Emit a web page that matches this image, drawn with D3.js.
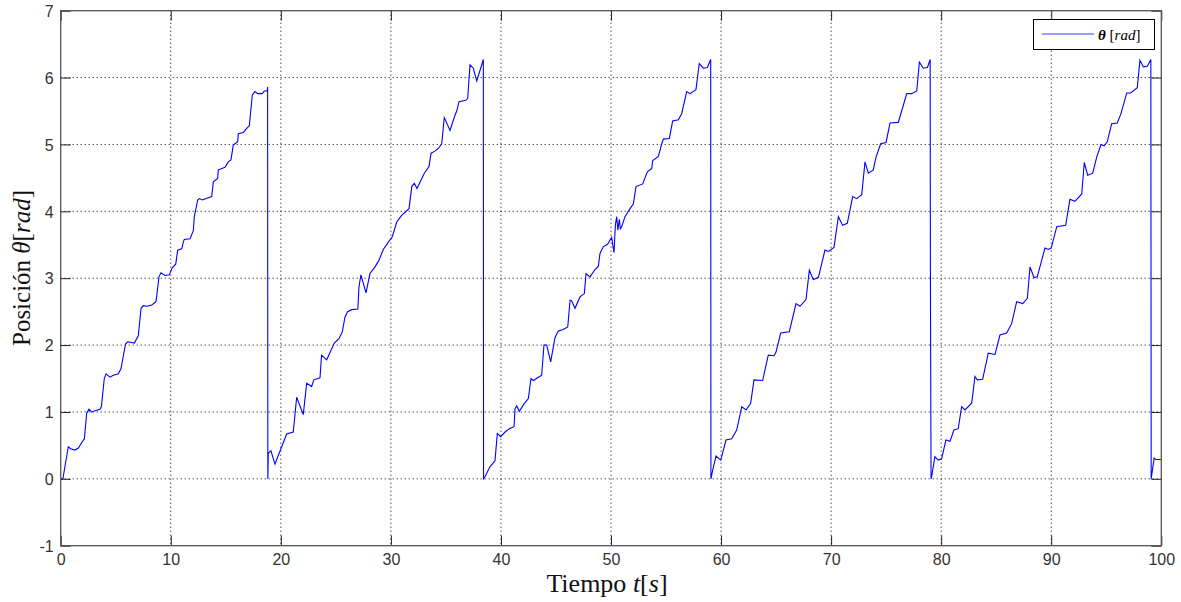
<!DOCTYPE html>
<html>
<head>
<meta charset="utf-8">
<script src="https://cdn.jsdelivr.net/npm/d3@7"></script>
<style>
  body { margin: 0; background: #fff; }
  svg { display: block; }
  .tick text { font-family: "Liberation Sans", Arial, sans-serif; font-size: 16px; fill: #333; }
</style>
</head>
<body>
<div id="chart"></div>
<script>
// time samples [s]
const tiempo = [
  0, 0.2, 0.69, 0.9, 1.3, 1.6, 1.9, 2.15, 2.36, 2.57, 2.8, 3.57, 3.7, 3.96, 4.12, 4.48, 4.78, 5.24, 5.48, 5.69,
  5.9, 6.1, 6.69, 7.05, 7.3, 7.5, 7.85, 8.27, 8.66, 8.93, 9.11, 9.48, 9.87, 10.14, 10.45, 10.63, 11.0, 11.14, 11.23, 11.75,
  12.05, 12.14, 12.45, 12.6, 12.87, 13.72, 13.87, 14.26, 14.32, 14.93, 15.23, 15.47, 15.68, 16.08, 16.14, 16.6, 16.9, 17.14, 17.41, 17.65,
  17.9, 18.32, 18.5, 18.76, 18.8, 18.82,
  18.86, 19.1, 19.47, 19.72, 20.08, 20.53, 21.13, 21.44, 22.04, 22.35, 22.8, 23.0, 23.56, 23.7, 24.17, 24.86, 25.3, 25.59, 25.83, 26.07,
  26.45, 27.0, 27.1, 27.28, 27.4, 27.74, 28.1, 28.56, 28.92, 29.31, 29.77, 30.13, 30.53, 30.98, 31.65, 31.9, 32.13, 32.37, 33.04, 33.46,
  33.65, 34.0, 34.31, 34.62, 34.85, 34.97, 35.37, 35.83, 35.98, 36.19, 36.8, 36.98, 37.19, 37.49, 37.8, 38.1, 38.4, 38.42,
  38.55, 39.0, 39.46, 39.67, 39.98, 40.37, 40.76, 41.19, 41.28, 41.43, 41.67, 42.1, 42.49, 42.73, 42.94, 43.7, 43.91, 44.16, 44.52, 44.91,
  45.21, 45.61, 46.07, 46.28, 46.4, 46.73, 47.18, 47.58, 47.73, 48.09, 48.55, 48.85, 49.0, 49.3, 49.7, 50.06, 50.27, 50.4, 50.52, 50.62,
  50.76, 50.85, 50.97, 51.27, 51.73, 52.03, 52.27, 52.88, 53.3, 53.7, 53.79, 54.3, 54.61, 54.76, 55.3, 55.6, 56.12, 56.42, 56.88, 57.18,
  57.72, 58.02, 58.39, 58.75, 59.06, 59.08,
  59.24, 59.54, 59.97, 60.45, 60.97, 61.42, 61.88, 62.27, 62.69, 62.99, 63.78, 64.29, 64.81, 65.0, 65.42, 66.2, 66.81, 67.17, 67.72, 68.02,
  68.38, 68.84, 69.44, 69.75, 70.26, 70.66, 71.05, 71.47, 71.96, 72.32, 72.78, 73.08, 73.38, 73.83, 74.08, 74.5, 74.99, 75.35, 76.1, 76.41,
  76.87, 77.32, 77.78, 78.02, 78.38, 78.75, 79.0, 79.02, 79.08,
  79.13, 79.43, 79.73, 80.04, 80.43, 80.8, 81.16, 81.55, 81.86, 82.16, 82.77, 83.07, 83.28, 83.77, 84.28, 84.89, 85.34, 85.95, 86.4, 86.86,
  87.41, 87.83, 88.07, 88.43, 88.73, 89.43, 89.73, 90.0, 90.5, 91.31, 91.7, 92.15, 92.77, 93.0, 93.31, 93.77, 94.13, 94.52, 94.8, 95.09,
  95.49, 96.0, 96.31, 96.86, 97.22, 97.82, 98.06, 98.37, 98.73, 99.05, 99.08,
  99.35, 99.5, 100
];

// angular position theta [rad]
const theta = [
  0, 0, 0.48, 0.45, 0.43, 0.46, 0.54, 0.6, 0.98, 1.04, 1.0, 1.04, 1.08, 1.5, 1.57, 1.52, 1.55, 1.57, 1.65, 1.84,
  2.02, 2.05, 2.03, 2.14, 2.55, 2.59, 2.58, 2.6, 2.65, 3.02, 3.08, 3.04, 3.05, 3.16, 3.21, 3.42, 3.44, 3.54, 3.58, 3.59,
  3.71, 3.92, 4.17, 4.19, 4.17, 4.22, 4.44, 4.49, 4.62, 4.66, 4.74, 4.77, 4.99, 5.04, 5.16, 5.18, 5.24, 5.28, 5.74, 5.79,
  5.76, 5.76, 5.8, 5.8, 5.86, 0,
  0.38, 0.42, 0.22, 0.33, 0.48, 0.67, 0.7, 1.22, 0.96, 1.43, 1.38, 1.48, 1.51, 1.85, 1.78, 2.03, 2.1, 2.2, 2.42, 2.5,
  2.53, 2.54, 2.87, 3.05, 2.98, 2.78, 3.07, 3.17, 3.27, 3.43, 3.54, 3.62, 3.84, 3.94, 4.04, 4.37, 4.42, 4.34, 4.57, 4.67,
  4.87, 4.9, 4.94, 5.01, 5.4, 5.36, 5.21, 5.44, 5.5, 5.64, 5.66, 5.69, 6.19, 6.14, 5.95, 6.11, 6.27, 0,
  0.03, 0.18, 0.27, 0.68, 0.63, 0.7, 0.75, 0.78, 1.05, 1.09, 1.01, 1.12, 1.2, 1.5, 1.47, 1.55, 2.0, 2.0, 1.75, 2.11,
  2.21, 2.23, 2.27, 2.67, 2.67, 2.55, 2.72, 2.77, 3.07, 3.02, 3.13, 3.18, 3.37, 3.47, 3.51, 3.61, 3.38, 3.8, 3.92, 3.72,
  3.88, 3.74, 3.77, 3.92, 4.04, 4.11, 4.37, 4.41, 4.59, 4.64, 4.76, 4.82, 5.01, 5.08, 5.09, 5.35, 5.37, 5.46, 5.79, 5.76,
  5.82, 6.21, 6.14, 6.15, 6.27, 0,
  0.13, 0.34, 0.28, 0.58, 0.6, 0.73, 1.08, 1.03, 1.13, 1.48, 1.47, 1.85, 1.84, 1.9, 2.18, 2.2, 2.62, 2.58, 2.68, 3.12,
  2.98, 3.01, 3.42, 3.4, 3.46, 3.92, 3.79, 3.82, 4.22, 4.19, 4.25, 4.74, 4.57, 4.62, 4.81, 5.01, 5.03, 5.32, 5.33, 5.5,
  5.76, 5.76, 5.8, 6.23, 6.14, 6.15, 6.27, 3.15, 0,
  0.03, 0.33, 0.28, 0.3, 0.58, 0.56, 0.73, 0.75, 1.08, 1.03, 1.13, 1.53, 1.48, 1.49, 1.88, 1.86, 2.15, 2.18, 2.32, 2.65,
  2.62, 2.7, 3.17, 3.01, 3.02, 3.45, 3.43, 3.45, 3.77, 3.79, 4.18, 4.15, 4.26, 4.73, 4.54, 4.57, 4.81, 5.0, 4.98, 5.04,
  5.31, 5.32, 5.45, 5.77, 5.77, 5.85, 6.26, 6.16, 6.17, 6.27, 0,
  0.31, 0.29, 0.29
];

const xTicks = [0, 10, 20, 30, 40, 50, 60, 70, 80, 90, 100];
const yTicks = [-1, 0, 1, 2, 3, 4, 5, 6, 7];

const width = 1181;
const height = 602;
const margin = {top: 10.7, right: 19.7, bottom: 56.3, left: 60.7};
const innerW = width - margin.left - margin.right;
const innerH = height - margin.top - margin.bottom;

const svg = d3.select('#chart')
  .append('svg')
  .attr('width', width)
  .attr('height', height);

const g = svg.append('g')
  .attr('transform', `translate(${margin.left}, ${margin.top})`);

const x = d3.scaleLinear().domain([0, 100]).range([0, innerW]);
const y = d3.scaleLinear().domain([-1, 7]).range([innerH, 0]);

// dotted grid
g.append('g')
  .selectAll('line')
  .data(xTicks.slice(1, -1))
  .join('line')
  .attr('x1', d => x(d)).attr('x2', d => x(d))
  .attr('y1', 0).attr('y2', innerH)
  .attr('stroke', '#000')
  .attr('stroke-width', 1)
  .attr('stroke-dasharray', '1,3');

g.append('g')
  .selectAll('line')
  .data(yTicks.slice(1, -1))
  .join('line')
  .attr('x1', 0).attr('x2', innerW)
  .attr('y1', d => y(d)).attr('y2', d => y(d))
  .attr('stroke', '#000')
  .attr('stroke-width', 1)
  .attr('stroke-dasharray', '1,3');

// the signal
const line = d3.line()
  .x((d, i) => x(tiempo[i]))
  .y(d => y(d));

g.append('path')
  .datum(theta)
  .attr('fill', 'none')
  .attr('stroke', '#0000ff')
  .attr('stroke-width', 1.1)
  .attr('d', line);

// axes, ticks inside like matlab
const fmt = d => String(d);
const xAxis = g.append('g')
  .attr('transform', `translate(0, ${innerH})`)
  .call(d3.axisBottom(x).tickValues(xTicks).tickSizeInner(-10).tickSizeOuter(0).tickFormat(fmt));
const yAxis = g.append('g')
  .call(d3.axisLeft(y).tickValues(yTicks).tickSizeInner(-10).tickSizeOuter(0).tickFormat(fmt));
const xTop = g.append('g')
  .call(d3.axisTop(x).tickValues(xTicks).tickSizeInner(-10).tickSizeOuter(0).tickFormat(''));
const yRight = g.append('g')
  .attr('transform', `translate(${innerW}, 0)`)
  .call(d3.axisRight(y).tickValues(yTicks).tickSizeInner(-10).tickSizeOuter(0).tickFormat(''));

[xAxis, yAxis, xTop, yRight].forEach(a => {
  a.select('.domain').remove();
  a.selectAll('.tick line').attr('stroke', '#222');
});
xAxis.selectAll('.tick text').attr('y', 19.5).attr('dy', 0);
yAxis.selectAll('.tick text').attr('x', -7).attr('dy', '0.36em');

// box
g.append('rect')
  .attr('x', 0).attr('y', 0)
  .attr('width', innerW).attr('height', innerH)
  .attr('fill', 'none')
  .attr('stroke', '#555')
  .attr('stroke-width', 1.3);

// axis labels
const xl = svg.append('text')
  .attr('x', 607)
  .attr('y', 592)
  .attr('text-anchor', 'middle')
  .attr('font-family', '"Liberation Serif", "Times New Roman", serif')
  .attr('font-size', 26)
  .attr('fill', '#111');
xl.append('tspan').text('Tiempo ');
xl.append('tspan').attr('font-style', 'italic').text('t');
xl.append('tspan').text('[');
xl.append('tspan').attr('font-style', 'italic').text('s');
xl.append('tspan').text(']');

const yl = svg.append('text')
  .attr('transform', `translate(30, 268) rotate(-90)`)
  .attr('text-anchor', 'middle')
  .attr('font-family', '"Liberation Serif", "Times New Roman", serif')
  .attr('font-size', 25)
  .attr('fill', '#111');
yl.append('tspan').text('Posición ');
yl.append('tspan').attr('font-style', 'italic').text('θ');
yl.append('tspan').text('[');
yl.append('tspan').attr('font-style', 'italic').text('rad');
yl.append('tspan').text(']');

// legend
const legend = svg.append('g');
legend.append('rect')
  .attr('x', 1033.5).attr('y', 19.5)
  .attr('width', 121).attr('height', 30)
  .attr('fill', '#fff')
  .attr('stroke', '#000')
  .attr('stroke-width', 1);
legend.append('line')
  .attr('x1', 1042).attr('x2', 1094)
  .attr('y1', 34).attr('y2', 34)
  .attr('stroke', '#3b3bff')
  .attr('stroke-width', 1.2);
const lt = legend.append('text')
  .attr('x', 1098).attr('y', 40)
  .attr('font-family', '"Liberation Serif", "Times New Roman", serif')
  .attr('font-size', 15)
  .attr('font-style', 'italic')
  .attr('fill', '#000');
lt.append('tspan').attr('font-weight', 'bold').text('θ ');
lt.append('tspan').attr('font-style', 'normal').text('[');
lt.append('tspan').text('rad');
lt.append('tspan').attr('font-style', 'normal').text(']');
</script>
</body>
</html>
